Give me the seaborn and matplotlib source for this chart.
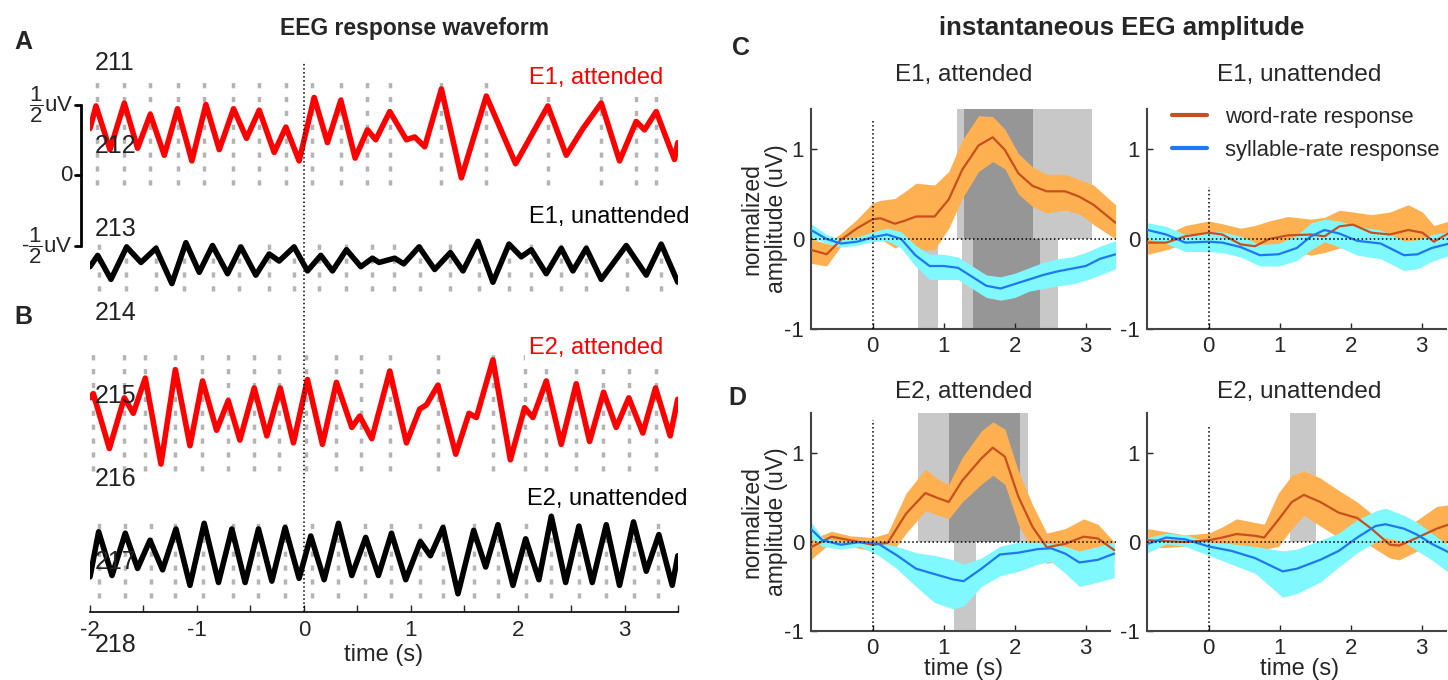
"""
EEG response waveform (A, B) and instantaneous EEG amplitude (C, D)
"""

import numpy as np
import matplotlib
matplotlib.use("Agg")
import matplotlib.pyplot as plt
from matplotlib.lines import Line2D
import seaborn as sns

# ---------------- data: waveform extrema (uV, around each row's baseline) ----------------
e1_att_t = [-2.0, -1.944, -1.813, -1.679, -1.555, -1.436, -1.305, -1.181, -1.047, -0.916,
            -0.791, -0.657, -0.536, -0.417, -0.277, -0.168, -0.044, 0.097, 0.221, 0.346,
            0.480, 0.595, 0.673, 0.804, 0.960, 1.037, 1.131, 1.287, 1.474, 1.707,
            1.981, 2.283, 2.455, 2.611, 2.782, 2.953, 3.109, 3.187, 3.296, 3.467, 3.498]
e1_att_v = [.08, .24, -.07, .26, -.06, .18, -.11, .22, -.15, .25,
            -.07, .22, .01, .21, -.09, .09, -.15, .30, -.02, .28,
            -.13, .07, .00, .20, .00, .02, -.05, .36, -.27, .31,
            -.17, .24, -.11, .08, .26, -.15, .13, .07, .20, -.14, -.02]
e1_att_syl = [-1.937, -1.679, -1.436, -1.181, -0.932, -0.666, -0.417, -0.168, 0.081, 0.346,
              0.595, 0.804, 1.287, 1.707, 2.283, 2.782, 3.109, 3.296]

e1_un_t = [-2.0, -1.928, -1.804, -1.657, -1.523, -1.383, -1.234, -1.103, -0.978, -0.854,
           -0.713, -0.589, -0.449, -0.324, -0.231, -0.091, 0.034, 0.159, 0.268, 0.399,
           0.533, 0.642, 0.704, 0.850, 0.935, 1.078, 1.224, 1.371, 1.489, 1.629,
           1.769, 1.919, 2.034, 2.128, 2.268, 2.408, 2.517, 2.642, 2.782, 3.016,
           3.203, 3.343, 3.498]
e1_un_v = [-.03, .05, -.12, .11, .00, .10, -.15, .14, -.07, .12,
           -.08, .11, -.09, .06, .01, .11, -.06, .05, -.06, .09,
           -.03, .03, .00, .03, -.01, .11, -.05, .07, -.06, .15,
           -.14, .13, .04, .09, -.08, .10, -.06, .10, -.12, .12,
           -.09, .13, -.14]
e1_un_syl = [-1.919, -1.664, -1.383, -1.119, -0.854, -0.605, -0.324, -0.091, 0.143, 0.393,
             0.642, 0.841, 1.084, 1.371, 1.638, 1.919, 2.128, 2.408, 2.636, 3.022, 3.343]

e2_att_t = [-2.0, -1.969, -1.819, -1.679, -1.595, -1.483, -1.336, -1.202, -1.065, -0.947,
            -0.816, -0.707, -0.598, -0.464, -0.346, -0.221, -0.097, 0.034, 0.174, 0.305,
            0.449, 0.523, 0.636, 0.804, 0.960, 1.084, 1.147, 1.255, 1.421, 1.545,
            1.614, 1.769, 1.932, 2.065, 2.143, 2.268, 2.408, 2.548, 2.673, 2.804,
            2.922, 3.040, 3.171, 3.290, 3.427, 3.498]
e2_att_v = [.07, .10, -.29, .07, -.04, .21, -.40, .27, -.27, .19,
            -.16, .05, -.23, .14, -.20, .14, -.25, .20, -.26, .18,
            -.14, -.06, -.22, .26, -.25, -.01, .02, .16, -.33, -.04,
            -.07, .34, -.37, .00, -.07, .19, -.26, .17, -.24, .11,
            -.14, .07, -.18, .14, -.20, .06]
e2_att_syl = [-1.975, -1.679, -1.483, -1.202, -0.953, -0.713, -0.464, -0.231, 0.019, 0.305,
              0.533, 0.804, 1.255, 1.769, 2.065, 2.268, 2.548, 2.797, 3.040, 3.290]

e2_un_t = [-2.0, -1.919, -1.794, -1.670, -1.555, -1.439, -1.321, -1.196, -1.065, -0.932,
           -0.798, -0.673, -0.549, -0.424, -0.299, -0.175, -0.044, 0.065, 0.190, 0.324,
           0.449, 0.579, 0.698, 0.820, 0.953, 1.090, 1.184, 1.302, 1.442, 1.589,
           1.701, 1.816, 1.956, 2.075, 2.199, 2.315, 2.449, 2.573, 2.698, 2.829,
           2.953, 3.084, 3.203, 3.321, 3.446, 3.498]
e2_un_v = [-.15, .17, -.14, .16, -.09, .11, -.10, .19, -.21, .23,
           -.19, .19, -.19, .19, -.18, .20, -.16, .14, -.17, .23,
           -.14, .13, -.14, .16, -.17, .10, .00, .20, -.27, .18,
           -.08, .22, -.21, .12, -.17, .28, -.19, .21, -.19, .22,
           -.21, .24, -.11, .15, -.21, .00]
e2_un_syl = [-1.913, -1.670, -1.430, -1.202, -0.941, -0.666, -0.424, -0.175, 0.075, 0.324,
             0.573, 0.820, 1.090, 1.302, 1.589, 1.816, 2.081, 2.315, 2.573, 2.829, 3.084, 3.311]

row_names = ["E1, attended", "E1, unattended", "E2, attended", "E2, unattended"]
stray_labels = ["211", "212", "213", "214", "215", "216", "217", "218"]

# ---------------- data: instantaneous amplitude (mean and band) ----------------
c_att_w_t = [-0.87, -0.65, -0.45, -0.22, 0.0, 0.11, 0.31, 0.44, 0.61, 0.87, 1.07,
             1.26, 1.49, 1.69, 1.86, 2.05, 2.25, 2.45, 2.71, 2.91, 3.11, 3.42]
c_att_w_m = [-0.12, -0.17, -0.01, 0.12, 0.22, 0.23, 0.17, 0.20, 0.25, 0.25, 0.44,
             0.77, 1.04, 1.13, 0.99, 0.73, 0.59, 0.53, 0.53, 0.47, 0.38, 0.18]
c_att_w_hi = [0.0, -0.05, 0.06, 0.22, 0.40, 0.43, 0.45, 0.52, 0.62, 0.60, 0.75,
              1.10, 1.37, 1.36, 1.22, 0.95, 0.80, 0.72, 0.72, 0.66, 0.60, 0.38]
c_att_w_lo = [-0.27, -0.30, -0.08, 0.02, 0.02, 0.0, -0.10, -0.06, -0.12, -0.12, 0.12,
              0.45, 0.75, 0.86, 0.78, 0.50, 0.36, 0.29, 0.32, 0.28, 0.16, 0.0]
c_att_s_t = [-0.87, -0.65, -0.45, -0.22, 0.0, 0.2, 0.4, 0.6, 0.8, 1.0, 1.2,
             1.4, 1.6, 1.8, 2.0, 2.2, 2.4, 2.6, 2.8, 3.0, 3.2, 3.42]
c_att_s_m = [0.10, 0.0, -0.05, -0.03, 0.02, 0.05, 0.0, -0.18, -0.30, -0.30, -0.32,
             -0.42, -0.52, -0.55, -0.50, -0.45, -0.40, -0.36, -0.33, -0.30, -0.22, -0.17]
c_att_s_hi = [0.17, 0.05, 0.0, 0.02, 0.08, 0.12, 0.08, -0.07, -0.17, -0.17, -0.20,
              -0.30, -0.40, -0.42, -0.38, -0.32, -0.26, -0.22, -0.20, -0.15, -0.08, -0.02]
c_att_s_lo = [0.02, -0.05, -0.09, -0.07, -0.03, -0.02, -0.10, -0.30, -0.45, -0.45, -0.45,
              -0.55, -0.65, -0.68, -0.65, -0.58, -0.55, -0.52, -0.50, -0.46, -0.40, -0.33]

c_un_w_t = [-0.86, -0.6, -0.33, 0.0, 0.19, 0.45, 0.65, 0.85, 1.11, 1.44, 1.63,
            1.84, 2.03, 2.29, 2.55, 2.81, 3.01, 3.17, 3.39]
c_un_w_m = [-0.04, -0.04, 0.03, 0.07, 0.05, -0.06, -0.08, 0.0, 0.04, 0.05, 0.03,
            0.14, 0.16, 0.07, 0.05, 0.10, 0.07, -0.03, 0.07]
c_un_w_hi = [0.06, 0.05, 0.15, 0.20, 0.17, 0.12, 0.15, 0.20, 0.25, 0.22, 0.24,
             0.32, 0.30, 0.27, 0.30, 0.38, 0.30, 0.15, 0.20]
c_un_w_lo = [-0.17, -0.12, -0.05, -0.05, -0.06, -0.08, -0.12, -0.08, -0.12, -0.18, -0.15,
             -0.10, -0.10, -0.15, -0.18, -0.20, -0.15, -0.18, -0.05]
c_un_s_t = [-0.86, -0.6, -0.33, 0.0, 0.19, 0.45, 0.72, 0.98, 1.24, 1.44, 1.63,
            1.84, 2.09, 2.42, 2.75, 2.94, 3.14, 3.39]
c_un_s_m = [0.10, 0.05, -0.04, -0.03, -0.04, -0.09, -0.18, -0.17, -0.10, 0.03, 0.10,
            0.06, -0.02, -0.05, -0.18, -0.17, -0.10, -0.05]
c_un_s_hi = [0.18, 0.14, 0.05, 0.08, 0.08, 0.03, -0.06, -0.05, 0.04, 0.18, 0.22,
             0.20, 0.14, 0.10, -0.02, -0.01, 0.05, 0.08]
c_un_s_lo = [0.0, -0.05, -0.14, -0.14, -0.15, -0.20, -0.30, -0.30, -0.24, -0.12, -0.03,
             -0.09, -0.18, -0.22, -0.35, -0.33, -0.25, -0.18]

d_att_w_t = [-0.875, -0.58, -0.32, 0.0, 0.21, 0.47, 0.74, 0.93, 1.07, 1.26,
             1.53, 1.69, 1.86, 2.05, 2.25, 2.45, 2.71, 2.97, 3.17, 3.4]
d_att_w_m = [-0.06, 0.06, 0.02, -0.03, -0.01, 0.32, 0.55, 0.49, 0.45, 0.69,
             0.94, 1.06, 0.96, 0.51, 0.17, -0.06, -0.02, 0.06, 0.04, -0.09]
d_att_w_hi = [0.03, 0.12, 0.07, 0.05, 0.10, 0.55, 0.82, 0.70, 0.65, 0.95,
              1.25, 1.35, 1.27, 0.80, 0.42, 0.10, 0.15, 0.26, 0.20, 0.0]
d_att_w_lo = [-0.20, 0.0, -0.05, -0.10, -0.18, 0.10, 0.35, 0.30, 0.26, 0.45,
              0.65, 0.75, 0.65, 0.20, -0.10, -0.24, -0.20, -0.10, -0.10, -0.22]
d_att_s_t = [-0.875, -0.71, -0.45, -0.18, 0.08, 0.34, 0.61, 0.87, 1.13, 1.28,
             1.53, 1.79, 2.05, 2.32, 2.51, 2.71, 2.91, 3.17, 3.4]
d_att_s_m = [0.15, 0.02, -0.03, 0.0, -0.02, -0.15, -0.30, -0.36, -0.42, -0.44,
             -0.30, -0.14, -0.12, -0.08, -0.07, -0.13, -0.23, -0.20, -0.13]
d_att_s_hi = [0.23, 0.05, 0.0, 0.02, 0.0, -0.05, -0.12, -0.15, -0.20, -0.25,
              -0.18, -0.05, 0.0, 0.0, -0.02, -0.05, -0.10, -0.05, 0.0]
d_att_s_lo = [0.05, -0.05, -0.08, -0.05, -0.15, -0.30, -0.50, -0.68, -0.75, -0.72,
              -0.50, -0.38, -0.33, -0.25, -0.22, -0.35, -0.50, -0.45, -0.40]

d_un_w_t = [-0.86, -0.33, 0.0, 0.19, 0.39, 0.65, 0.78, 0.98, 1.17, 1.34,
            1.57, 1.83, 2.09, 2.29, 2.55, 2.68, 2.94, 3.21, 3.39]
d_un_w_m = [0.02, 0.0, 0.02, 0.05, 0.09, 0.07, 0.05, 0.25, 0.45, 0.53,
            0.45, 0.33, 0.27, 0.15, -0.03, -0.04, 0.05, 0.15, 0.20]
d_un_w_hi = [0.15, 0.08, 0.10, 0.17, 0.26, 0.22, 0.20, 0.55, 0.75, 0.80,
             0.72, 0.58, 0.45, 0.32, 0.13, 0.10, 0.25, 0.40, 0.42]
d_un_w_lo = [-0.07, -0.05, -0.05, -0.04, -0.05, -0.05, -0.08, -0.05, 0.15, 0.30,
             0.18, 0.05, 0.05, -0.05, -0.18, -0.20, -0.10, -0.05, 0.0]
d_un_s_t = [-0.86, -0.6, -0.33, 0.0, 0.32, 0.65, 1.04, 1.24, 1.57, 1.83,
            2.09, 2.35, 2.49, 2.75, 2.94, 3.14, 3.39]
d_un_s_m = [-0.02, 0.05, 0.03, -0.05, -0.10, -0.18, -0.33, -0.30, -0.20, -0.10,
            0.05, 0.18, 0.20, 0.15, 0.08, -0.02, -0.12]
d_un_s_hi = [0.05, 0.10, 0.08, 0.0, -0.02, -0.05, -0.10, -0.08, 0.02, 0.10,
             0.25, 0.35, 0.38, 0.30, 0.22, 0.10, -0.05]
d_un_s_lo = [-0.12, -0.02, -0.05, -0.15, -0.25, -0.35, -0.62, -0.58, -0.45, -0.28,
             -0.12, 0.0, 0.05, 0.0, -0.10, -0.20, -0.35]

# significance windows (s): word-rate above zero, syllable-rate below zero
c_att_word_p05 = [(1.18, 3.09)]
c_att_word_p01 = [(1.28, 2.26)]
c_att_syl_p05 = [(0.64, 0.92), (1.26, 2.61)]
c_att_syl_p01 = [(1.41, 2.36)]
d_att_word_p05 = [(0.64, 2.18)]
d_att_word_p01 = [(1.08, 2.07)]
d_att_syl_p05 = [(1.14, 1.45)]
d_un_word_p05 = [(1.15, 1.51)]

# ---------------- style ----------------
W, H = 1448, 680
RED = "#ff0000"
BLACK = "#000000"
SYL_GREY = "#b4b4b4"
WORD_LINE = "#c8501e"
WORD_BAND = "#ffb050"
SYL_LINE = "#1e78f0"
SYL_BAND = "#80f8ff"
LIGHT = "#c8c8c8"
DARK = "#969696"

sns.set_theme(style="white")
plt.rcParams["font.family"] = ["Liberation Sans", "DejaVu Sans"]
plt.rcParams["mathtext.fontset"] = "custom"
plt.rcParams["mathtext.rm"] = "Liberation Sans"
plt.rcParams["mathtext.it"] = "Liberation Sans"
plt.rcParams["axes.unicode_minus"] = False


def px_box(x0, y0, x1, y1):
    """pixel box (top-left origin) -> figure fraction rect"""
    return [x0 / W, 1 - y1 / H, (x1 - x0) / W, (y1 - y0) / H]


fig = plt.figure(figsize=(W / 100, H / 100), dpi=100)

# ================= A / B: waveforms =================
ax = fig.add_axes(px_box(90, 45, 678, 612))
ax.set_xlim(-2, 3.5)
ax.set_ylim(-3.099, 0.922)

rows = [
    (e1_att_t, e1_att_v, e1_att_syl, RED, 0.25, (-0.32, 0.42), (3.36, 0.69)),
    (e1_un_t, e1_un_v, e1_un_syl, BLACK, -0.62, (-0.20, 0.19), (3.61, -0.30)),
    (e2_att_t, e2_att_v, e2_att_syl, RED, -1.65, (-0.45, 0.38), (3.36, -1.23)),
    (e2_un_t, e2_un_v, e2_un_syl, BLACK, -2.70, (-0.30, 0.27), (3.59, -2.30)),
]
for name, (t, v, syl, col, base, (d0, d1), (lx, ly)) in zip(row_names, rows):
    ax.vlines(syl, base + d0, base + d1, colors=SYL_GREY, linewidth=2.5,
              linestyles=(0, (1.5, 2.5)), zorder=1)
    sns.lineplot(x=t, y=np.array(v) + base, ax=ax, color=col, linewidth=4,
                 estimator=None, sort=False, legend=False, zorder=3,
                 solid_joinstyle="round", solid_capstyle="round")
    ax.text(lx, ly, name, color=col, fontsize=17, ha="right", va="center", zorder=2,
            bbox=dict(facecolor="white", edgecolor="none", pad=3), clip_on=False)

ax.plot([0, 0], [-3.099, 0.80], color="black", linestyle=":", linewidth=1.1, zorder=4)

# scale bar
bx = -2.084
ax.plot([bx, bx], [-0.5, 0.5], color="black", linewidth=2, clip_on=False)
for yy in (-0.5, 0.0, 0.5):
    ax.plot([bx - 0.055, bx], [yy, yy], color="black", linewidth=2, clip_on=False)
ax.text(-2.16, 0.5, r"$\dfrac{1}{2}$uV", fontsize=16, ha="right", va="center")
ax.text(-2.16, 0.0, "0", fontsize=16, ha="right", va="center")
ax.text(-2.16, -0.5, r"-$\dfrac{1}{2}$uV", fontsize=16, ha="right", va="center")

for s in ("left", "top", "right"):
    ax.spines[s].set_visible(False)
ax.spines["bottom"].set_color("black")
ax.spines["bottom"].set_linewidth(1.2)
ax.set_xticks([-2, -1, 0, 1, 2, 3])
ax.set_xticks(np.arange(-2, 3.51, 0.5), minor=True)
ax.set_yticks([])
ax.tick_params(axis="x", which="both", direction="in", length=5, width=1,
               labelsize=16, bottom=True, pad=6)
ax.set_xlabel("time (s)", fontsize=17, labelpad=2)

# ================= C / D: amplitude =================
panels = [
    ("E1, attended", (811, 108.5, 1115.6, 329), 75,
     (c_att_w_t, c_att_w_m, c_att_w_lo, c_att_w_hi),
     (c_att_s_t, c_att_s_m, c_att_s_lo, c_att_s_hi),
     (c_att_word_p05, c_att_word_p01, c_att_syl_p05, c_att_syl_p01), 1.33, True, False),
    ("E1, unattended", (1147, 108.5, 1451.6, 329), 75,
     (c_un_w_t, c_un_w_m, c_un_w_lo, c_un_w_hi),
     (c_un_s_t, c_un_s_m, c_un_s_lo, c_un_s_hi),
     ([], [], [], []), 0.58, False, False),
    ("E2, attended", (811, 413, 1115.6, 631), 392,
     (d_att_w_t, d_att_w_m, d_att_w_lo, d_att_w_hi),
     (d_att_s_t, d_att_s_m, d_att_s_lo, d_att_s_hi),
     (d_att_word_p05, d_att_word_p01, d_att_syl_p05, []), 1.37, True, True),
    ("E2, unattended", (1147, 413, 1451.6, 631), 392,
     (d_un_w_t, d_un_w_m, d_un_w_lo, d_un_w_hi),
     (d_un_s_t, d_un_s_m, d_un_s_lo, d_un_s_hi),
     (d_un_word_p05, [], [], []), 1.31, False, True),
]

YTOP = 1.45
for title, box, ty, word, syl, sig, vtop, ylab, xlab in panels:
    a = fig.add_axes(px_box(*box))
    a.set_xlim(-0.87, 3.42)
    a.set_ylim(-1, YTOP)
    wp05, wp01, sp05, sp01 = sig
    for x0, x1 in wp05:
        a.fill_between([x0, x1], 0, YTOP, color=LIGHT, lw=0, zorder=0)
    for x0, x1 in wp01:
        a.fill_between([x0, x1], 0, YTOP, color=DARK, lw=0, zorder=0.1)
    for x0, x1 in sp05:
        a.fill_between([x0, x1], -1, 0, color=LIGHT, lw=0, zorder=0)
    for x0, x1 in sp01:
        a.fill_between([x0, x1], -1, 0, color=DARK, lw=0, zorder=0.1)

    wt, wm, wlo, whi = word
    st, sm, slo, shi = syl
    a.fill_between(wt, wlo, whi, color=WORD_BAND, lw=0, zorder=1)
    a.fill_between(st, slo, shi, color=SYL_BAND, lw=0, zorder=2)
    sns.lineplot(x=wt, y=wm, ax=a, color=WORD_LINE, linewidth=1.6,
                 estimator=None, sort=False, legend=False, zorder=3)
    sns.lineplot(x=st, y=sm, ax=a, color=SYL_LINE, linewidth=1.6,
                 estimator=None, sort=False, legend=False, zorder=3)

    a.axhline(0, color="black", linestyle=":", linewidth=1.1, zorder=4)
    a.plot([0, 0], [-1, vtop], color="black", linestyle=":", linewidth=1.1, zorder=4)

    for s in ("top", "right"):
        a.spines[s].set_visible(False)
    for s in ("left", "bottom"):
        a.spines[s].set_color("#444444")
        a.spines[s].set_linewidth(1.5)
    a.spines["bottom"].set_bounds(-0.87, 3.34)
    a.set_xticks([0, 1, 2, 3])
    a.set_yticks([-1, 0, 1])
    a.tick_params(direction="in", length=4, width=1, labelsize=16,
                  bottom=True, left=True, pad=5)
    if ylab:
        a.set_ylabel("normalized\namplitude (uV)", fontsize=16.5, linespacing=1.1)
        a.yaxis.set_label_coords(-0.075, 0.5)
    if xlab:
        a.set_xlabel("time (s)", fontsize=17, labelpad=-1)
    cx = (box[0] + box[2]) / 2
    fig.text(cx / W, 1 - ty / H, title, fontsize=17.5, ha="center", va="center")

fig.legend(handles=[Line2D([], [], color=WORD_LINE, lw=3),
                    Line2D([], [], color=SYL_LINE, lw=3)],
           labels=["word-rate response", "syllable-rate response"],
           loc="upper left", bbox_to_anchor=(1172 / W, 1 - 107 / H),
           frameon=False, fontsize=15.8, handlelength=1.6, handletextpad=0.8,
           labelspacing=0.55, borderpad=0, borderaxespad=0)

# ================= headers and panel letters =================
fig.text(415 / W, 1 - 28 / H, "EEG response waveform", fontsize=16.5,
         fontweight="bold", ha="center", va="center")
fig.text(1122 / W, 1 - 28 / H, "instantaneous EEG amplitude", fontsize=18.5,
         fontweight="bold", ha="center", va="center")
for letter, (x, y) in zip("ABCD", [(23, 42), (23, 317), (741, 48), (737, 398)]):
    fig.text(x / W, 1 - y / H, letter, fontsize=18, fontweight="bold",
             ha="center", va="center")

for i, lab in enumerate(stray_labels):
    fig.text(95 / W, 1 - (63 + 83.2 * i) / H, lab, fontsize=18, color="#222222",
             ha="left", va="center")

fig.savefig("out.png", dpi=100)
